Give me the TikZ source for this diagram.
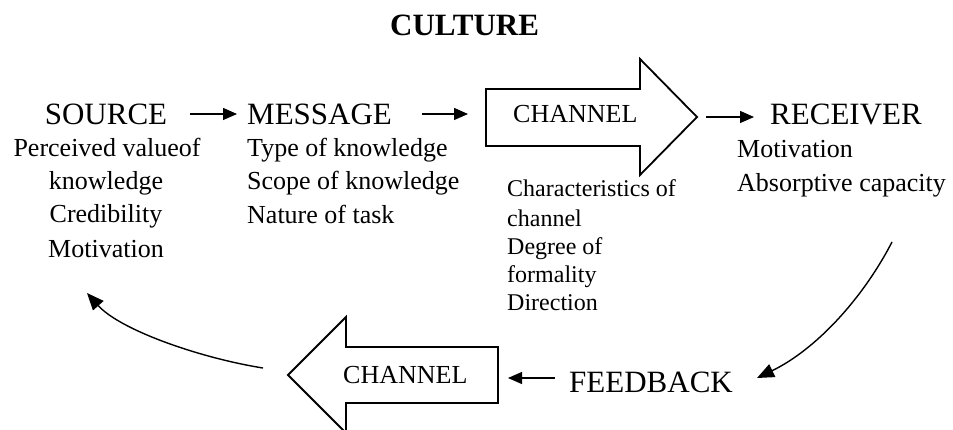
\documentclass[tikz,border=0pt]{standalone}
\usepackage{fontspec}
\setmainfont{Liberation Serif}
\usetikzlibrary{arrows.meta}
\begin{document}
\begin{tikzpicture}[x=1pt,y=-1pt,
  title/.style={font=\fontsize{31}{37}\selectfont\bfseries, inner sep=0pt, anchor=base west},
  big/.style={font=\fontsize{31}{37}\selectfont, inner sep=0pt, anchor=base west},
  bigc/.style={font=\fontsize{31}{37}\selectfont, inner sep=0pt, anchor=base},
  sub/.style={font=\fontsize{26}{31}\selectfont, inner sep=0pt, anchor=base west},
  subc/.style={font=\fontsize{26}{31}\selectfont, inner sep=0pt, anchor=base},
  small/.style={font=\fontsize{24}{29}\selectfont, inner sep=0pt, anchor=base west},
  conn/.style={line width=1.4pt, -{Triangle[length=14pt,width=12pt]}},
  curv/.style={line width=1.4pt, -{Triangle[length=17pt,width=14pt]}},
  bigarrow/.style={line width=1.8pt, line join=miter, fill=white}]
\useasboundingbox (0,0) rectangle (953,430);
\clip (0,0) rectangle (953,430);

% title
\node[title] (culture) at (390,36) {CULTURE};

% big channel arrows
\draw[bigarrow] (486,89) -- (640,89) -- (640,59) -- (697,117) -- (640,175) -- (640,146) -- (486,146) -- cycle;
\draw[bigarrow] (288,375) -- (346,317) -- (346,347) -- (498,347) -- (498,403) -- (346,403) -- (346,433) -- cycle;

% main labels
\node[bigc] (source) at (106,125) {SOURCE};
\node[big] (message) at (247,125) {MESSAGE};
\node[sub] (channel1) at (513,123) {CHANNEL};
\node[big] (receiver) at (770,125) {RECEIVER};
\node[big] (feedback) at (569,392) {FEEDBACK};
\node[sub] (channel2) at (343,383) {CHANNEL};

% source attributes
\node[subc] (s1) at (107,157) {Perceived valueof};
\node[subc] (s2) at (106,190) {knowledge};
\node[subc] (s3) at (106,223) {Credibility};
\node[subc] (s4) at (106,258) {Motivation};

% message attributes
\node[sub] (m1) at (247,157) {Type of knowledge};
\node[sub] (m2) at (247,190) {Scope of knowledge};
\node[sub] (m3) at (247,224) {Nature of task};

% channel attributes
\node[small] (c1) at (507,197) {Characteristics of};
\node[small] (c2) at (507,227) {channel};
\node[small] (c3) at (507,255) {Degree of};
\node[small] (c4) at (507,283) {formality};
\node[small] (c5) at (507,311) {Direction};

% receiver attributes
\node[sub] (r1) at (737,158) {Motivation};
\node[sub] (r2) at (737,192) {Absorptive capacity};

% connectors
\coordinate (a1) at (190,114);
\coordinate (a2) at (422,114);
\coordinate (a2e) at (468,114);
\coordinate (a3) at (706,117);
\coordinate (a4) at (555,378);
\coordinate (a4e) at (508,378);
\coordinate (cr) at (892,242);
\coordinate (cre) at (757,378);
\coordinate (cl) at (263,368);
\coordinate (cle) at (87,293);

\draw[conn] (a1) -- ([xshift=-10pt]a1 -| message.west);
\draw[conn] (a2) -- (a2e);
\draw[conn] (a3) -- ([xshift=-16pt]a3 -| receiver.west);
\draw[conn] (a4) -- (a4e);
\draw[curv] (cr) .. controls (862,300) and (815,350) .. (cre);
\draw[curv] (cl) .. controls (200,358) and (120,330) .. (cle);
\end{tikzpicture}
\end{document}
